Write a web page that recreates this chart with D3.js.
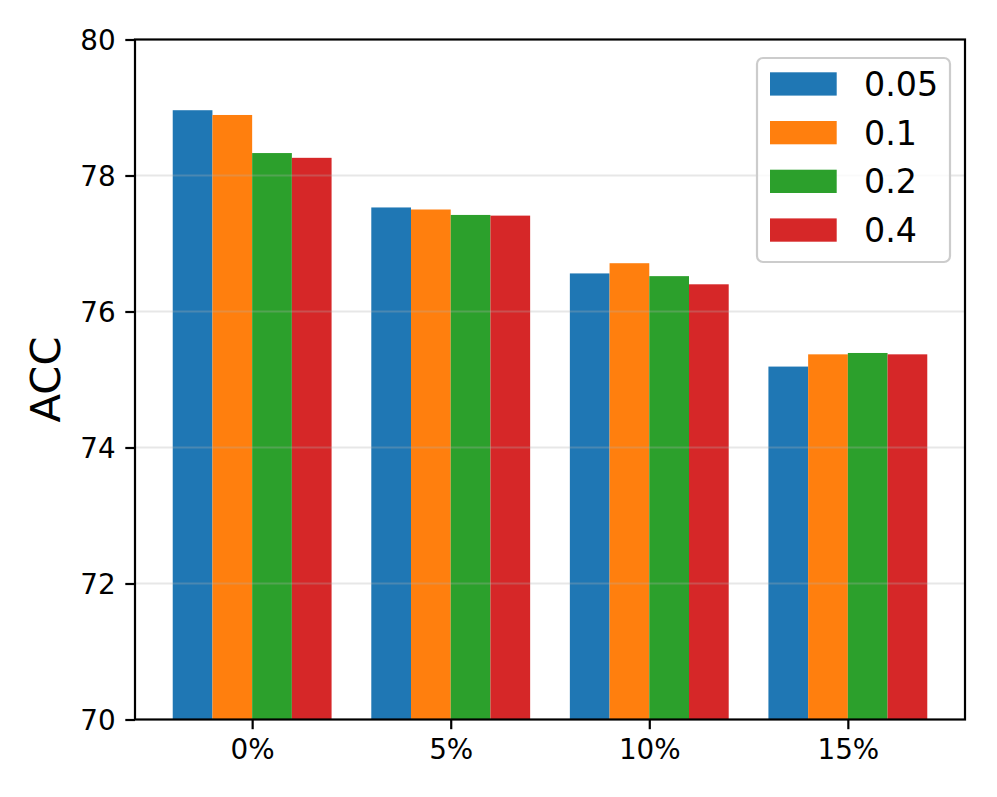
<!DOCTYPE html>
<html>
<head>
<meta charset="utf-8">
<script src="https://cdn.jsdelivr.net/npm/d3@7"></script>
<style>
  html, body { margin: 0; padding: 0; background: #fff; }
  svg text { font-family: "DejaVu Sans", sans-serif; fill: #000; }
</style>
</head>
<body>
<svg id="chart" width="997" height="797"></svg>
<script>
const categories = ["0%", "5%", "10%", "15%"];
const seriesNames = ["0.05", "0.1", "0.2", "0.4"];
const values005 = [78.96, 77.53, 76.56, 75.19];
const values01  = [78.89, 77.50, 76.71, 75.37];
const values02  = [78.33, 77.42, 76.52, 75.39];
const values04  = [78.26, 77.41, 76.40, 75.37];
const yTicks = [70, 72, 74, 76, 78, 80];
const colors = ["#1f77b4", "#ff7f0e", "#2ca02c", "#d62728"];

const seriesValues = [values005, values01, values02, values04];

const svg = d3.select("#chart");
const pLeft = 135, pRight = 965, pTop = 39.5, pBottom = 719.5;
const barW = 0.2;

const x = d3.scaleLinear().domain([-0.59, 3.59]).range([pLeft, pRight]);
const y = d3.scaleLinear().domain([70, 80]).range([pBottom, pTop]);

// bars
const g = svg.append("g");
seriesValues.forEach((vals, j) => {
  g.selectAll(null).data(vals).enter().append("rect")
    .attr("x", (d, i) => x(i + (j - 1.5) * barW - barW / 2))
    .attr("width", (d, i) => x(barW) - x(0))
    .attr("y", d => y(d))
    .attr("height", d => y(70) - y(d))
    .attr("fill", colors[j]);
});

// grid lines (on top, translucent)
svg.append("g").selectAll("line").data(yTicks.filter(t => t > 70 && t < 80)).enter().append("line")
  .attr("x1", pLeft).attr("x2", pRight)
  .attr("y1", d => y(d)).attr("y2", d => y(d))
  .attr("stroke", "#b0b0b0").attr("stroke-opacity", 0.3).attr("stroke-width", 2.2);

// axes
const yAxis = d3.axisLeft(y).tickValues(yTicks).tickFormat(d3.format("d")).tickSize(9.7).tickPadding(9.7);
const yG = svg.append("g").attr("transform", `translate(${pLeft},0)`).call(yAxis);
yG.select(".domain").remove();
yG.selectAll(".tick line").attr("stroke", "#000").attr("stroke-width", 2.2);
yG.selectAll(".tick text").attr("font-size", 27.8).attr("font-family", "DejaVu Sans").attr("dy", "0.36em");

const xAxis = d3.axisBottom(x).tickValues(d3.range(categories.length)).tickFormat(i => categories[i]).tickSize(9.7).tickPadding(9.7);
const xG = svg.append("g").attr("transform", `translate(0,${pBottom})`).call(xAxis);
xG.select(".domain").remove();
xG.selectAll(".tick line").attr("stroke", "#000").attr("stroke-width", 2.2);
xG.selectAll(".tick text").attr("font-size", 27.8).attr("font-family", "DejaVu Sans").attr("dy", "0.72em");

// frame
svg.append("rect").attr("x", pLeft).attr("y", pTop).attr("width", pRight - pLeft).attr("height", pBottom - pTop)
  .attr("fill", "none").attr("stroke", "#000").attr("stroke-width", 2.2);

// y label
svg.append("text")
  .attr("transform", `translate(60,${(pTop + pBottom) / 2}) rotate(-90)`)
  .attr("text-anchor", "middle")
  .attr("font-size", 41.7)
  .text("ACC");

// legend
const lg = svg.append("g");
lg.append("rect").attr("x", 757).attr("y", 58).attr("width", 193).attr("height", 204)
  .attr("rx", 6).attr("fill", "#fff").attr("fill-opacity", 0.8)
  .attr("stroke", "#cccccc").attr("stroke-width", 2.2);
seriesNames.forEach((name, j) => {
  const cy = 84 + j * 48.7;
  lg.append("rect").attr("x", 770).attr("y", cy - 11.7).attr("width", 66.7).attr("height", 23.3).attr("fill", colors[j]);
  lg.append("text").attr("x", 864).attr("y", cy + 12).attr("font-size", 33.3).text(name);
});
</script>
</body>
</html>
